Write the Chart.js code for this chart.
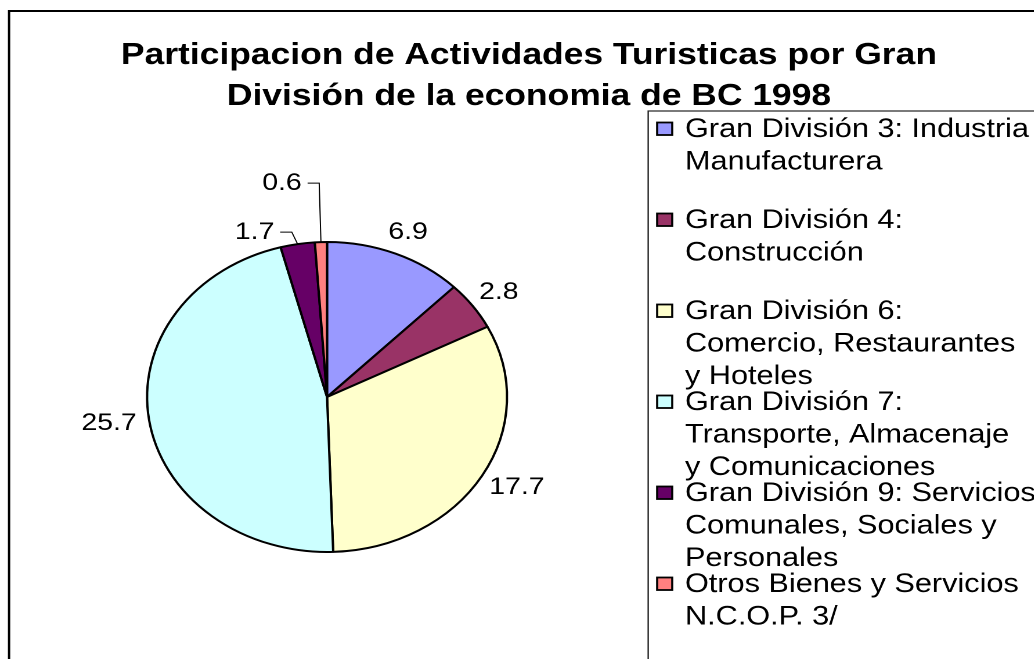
<!DOCTYPE html>
<html>
<head>
<meta charset="utf-8">
<script src="https://cdn.jsdelivr.net/npm/chart.js@4/dist/chart.umd.min.js"></script>
<style>
  html, body { margin: 0; padding: 0; background: #fff; overflow: hidden; }
  #wrap {
    width: 891px; height: 659px;
    transform: scaleX(1.161);
    transform-origin: 0 0;
  }
</style>
</head>
<body>
<div id="wrap"><canvas id="pie" width="891" height="659"></canvas></div>
<script>
// ---- data ----
const titleLines = ["Participacion de Actividades Turisticas por Gran", "División de la economia de BC 1998"];
const categories = [
  ["Gran División 3: Industria", "Manufacturera"],
  ["Gran División 4:", "Construcción"],
  ["Gran División 6:", "Comercio, Restaurantes", "y Hoteles"],
  ["Gran División 7:", "Transporte, Almacenaje", "y Comunicaciones"],
  ["Gran División 9: Servicios", "Comunales, Sociales y", "Personales"],
  ["Otros Bienes y Servicios", "N.C.O.P. 3/"]
];
const values = [6.9, 2.8, 17.7, 25.7, 1.7, 0.6];
const colors = ["#9999FF", "#993366", "#FFFFCC", "#CCFFFF", "#660066", "#FF8080"];

const FONT = "'Liberation Sans', Arial, sans-serif";

// frame, title and legend box
const framePlugin = {
  id: "frame",
  beforeDraw(chart) {
    const ctx = chart.ctx;
    ctx.save();
    ctx.fillStyle = "#fff";
    ctx.fillRect(0, 0, chart.width, chart.height);
    ctx.strokeStyle = "#000";
    ctx.lineWidth = 2;
    ctx.strokeRect(7.8, 11, chart.width + 20, chart.height + 20);
    ctx.restore();
  },
  afterDraw(chart) {
    const ctx = chart.ctx;
    ctx.save();

    // legend
    const lx = 558.3, ly = 111;
    ctx.strokeStyle = "#222";
    ctx.lineWidth = 1.2;
    ctx.strokeRect(lx, ly, chart.width, chart.height);
    ctx.font = "26.4px " + FONT;
    ctx.textAlign = "left";
    ctx.textBaseline = "middle";
    categories.forEach((lines, i) => {
      const y0 = 128.5 + i * 91;
      ctx.fillStyle = colors[i];
      ctx.fillRect(566, y0 - 6, 13, 12.5);
      ctx.strokeStyle = "#000";
      ctx.lineWidth = 1.8;
      ctx.strokeRect(566, y0 - 6, 13, 12.5);
      ctx.fillStyle = "#000";
      lines.forEach((t, j) => ctx.fillText(t, 590, y0 + j * 32.5 + 1));
    });

    // title (drawn last so it sits over the legend box edge)
    ctx.fillStyle = "#000";
    ctx.font = "bold 30.5px " + FONT;
    ctx.textAlign = "center";
    ctx.textBaseline = "alphabetic";
    ctx.fillText(titleLines[0], 455.6, 64);
    ctx.fillText(titleLines[1], 455.6, 105);
    ctx.restore();
  }
};

// value labels, with leader lines for the thin slices
const labelPlugin = {
  id: "sliceLabels",
  afterDatasetsDraw(chart, args, opts) {
    const ctx = chart.ctx;
    const meta = chart.getDatasetMeta(0);
    ctx.save();
    ctx.font = "24.5px " + FONT;
    ctx.fillStyle = "#000";
    ctx.strokeStyle = "#000";
    ctx.lineWidth = 1;
    meta.data.forEach((arc, i) => {
      const p = arc.getProps(["x", "y", "startAngle", "endAngle", "outerRadius"], true);
      const mid = (p.startAngle + p.endAngle) / 2;
      const c = Math.cos(mid), s = Math.sin(mid);
      const txt = values[i].toFixed(1);
      const w = ctx.measureText(txt).width;
      const lead = opts.leaders[i];
      if (lead) {
        const ex = p.x + p.outerRadius * c, ey = p.y + p.outerRadius * s;
        const bx = ex + lead[0], by = ey + lead[1];
        ctx.beginPath();
        ctx.moveTo(ex, ey);
        ctx.lineTo(bx, by);
        ctx.lineTo(bx - 10, by);
        ctx.stroke();
        ctx.textAlign = "right";
        ctx.textBaseline = "middle";
        ctx.fillText(txt, bx - 15, by);
      } else {
        const r = p.outerRadius + opts.gap;
        ctx.textAlign = "center";
        ctx.textBaseline = "middle";
        ctx.fillText(txt, p.x + r * c + (w / 2) * c, p.y + r * s + 12 * s);
      }
    });
    ctx.restore();
  }
};

new Chart(document.getElementById("pie"), {
  type: "pie",
  data: {
    labels: categories,
    datasets: [{
      data: values,
      backgroundColor: colors,
      borderColor: "#000",
      borderWidth: 2
    }]
  },
  options: {
    responsive: false,
    devicePixelRatio: 2,
    animation: false,
    layout: { padding: { left: 103.7, right: 431.3, top: 241, bottom: 106 } },
    plugins: {
      legend: { display: false },
      tooltip: { enabled: false },
      title: { display: false },
      sliceLabels: { gap: 11, leaders: { 4: [-5, -12], 5: [-1.5, -59] } }
    }
  },
  plugins: [framePlugin, labelPlugin]
});
</script>
</body>
</html>
